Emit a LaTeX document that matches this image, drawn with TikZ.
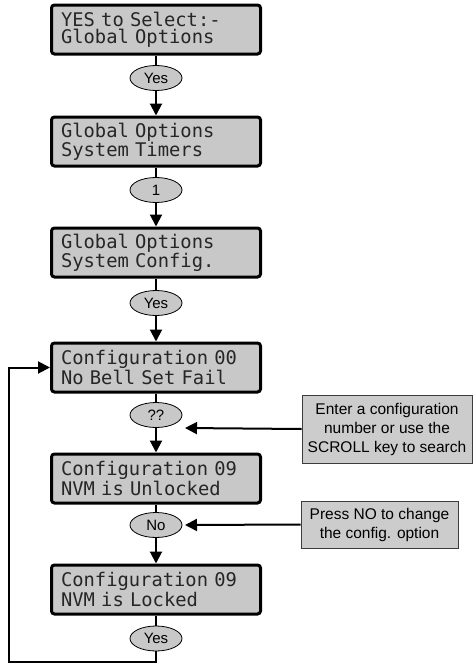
\documentclass[tikz,border=0pt]{standalone}
\usepackage{fontspec}
\setmainfont{Liberation Sans}
\newfontfamily\lcdfont{DejaVu Sans Mono}
\usetikzlibrary{arrows.meta,calc,shapes.geometric}
\definecolor{lcdfill}{RGB}{200,200,200}
\definecolor{notefill}{RGB}{204,204,204}
\definecolor{noteline}{RGB}{60,60,60}
\begin{document}
\begin{tikzpicture}[x=1pt,y=-1pt,
  lcd/.style={draw=black,line width=3pt,rounded corners=3pt,fill=lcdfill,
    minimum width=209pt,minimum height=49pt,text width=190pt,align=left,
    inner sep=0pt,text=black!85,font=\lcdfont\fontsize{18.8}{17}\selectfont},
  keynode/.style={ellipse,draw=black,line width=0.8pt,fill=lcdfill,
    minimum width=52pt,minimum height=25pt,inner sep=0pt,
    font=\fontsize{15}{17}\selectfont},
  note/.style={draw=noteline,line width=0.8pt,fill=notefill,inner sep=0pt,
    align=center,font=\fontsize{15.5}{19}\selectfont},
  link/.style={line width=2pt},
  flow/.style={link,-{Triangle[width=12pt,length=12pt]}}]
\useasboundingbox (0,0) rectangle (473,664);

\node[lcd] (b1) at (156,29.5) {YES to Select:-\\Global Options};
\node[keynode] (e1) at (156,78) {Yes};
\node[lcd] (b2) at (156,141.5) {Global Options\\System Timers};
\node[keynode] (e2) at (156,190) {1};
\node[lcd] (b3) at (156,252.5) {Global Options\\System Config.};
\node[keynode] (e3) at (156,303) {Yes};
\node[lcd] (b4) at (156,367.5) {Configuration 00\\No Bell Set Fail};
\node[keynode] (e4) at (156,415) {??};
\node[lcd] (b5) at (156,478.5) {Configuration 09\\NVM is Unlocked};
\node[keynode] (e5) at (156,525) {No};
\node[lcd] (b6) at (156,589.5) {Configuration 09\\NVM is Locked};
\node[keynode] (e6) at (156,638.5) {Yes};

\node[note,minimum width=170pt,minimum height=68pt] (r1) at (387,429)
  {Enter a configuration\\number or use the\\SCROLL key to search};
\node[note,minimum width=157pt,minimum height=47pt] (r2) at (379.5,524.5)
  {Press NO to change\\the config. option};

\coordinate (t1) at (185,428);
\coordinate (t2) at (185,525);
\coordinate (lc) at (9,662);

\draw[link] (b1.south) -- (e1.north);
\draw[flow] (e1.south) -- (b2.north);
\draw[link] (b2.south) -- (e2.north);
\draw[flow] (e2.south) -- (b3.north);
\draw[link] (b3.south) -- (e3.north);
\draw[flow] (e3.south) -- (b4.north);
\draw[link] (b4.south) -- (e4.north);
\draw[flow] (e4.south) -- (b5.north);
\draw[link] (b5.south) -- (e5.north);
\draw[flow] (e5.south) -- (b6.north);
\draw[link] (b6.south) -- (e6.north);
\draw[flow] (r1.west) -- (t1);
\draw[flow] (r2.west) -- (t2);
\draw[flow] (e6.south) |- (lc) |- (b4.west);
\end{tikzpicture}
\end{document}
